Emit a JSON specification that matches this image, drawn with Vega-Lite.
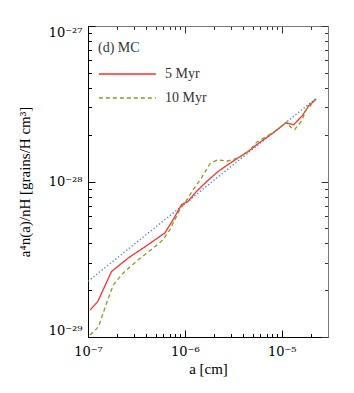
{
  "$schema": "https://vega.github.io/schema/vega-lite/v6.json",
  "width": 240,
  "height": 311,
  "autosize": "none",
  "padding": {"left": 88, "top": 26, "right": 26, "bottom": 56},
  "background": "white",
  "config": {"font": "Liberation Serif", "view": {"stroke": null}},
  "data": {"values": [
    {"s": "MRN", "a": 1.0e-7, "v": 2.28e-29},
    {"s": "MRN", "a": 2.25e-5, "v": 3.42e-28},
    {"s": "5 Myr", "a": 1.05e-7, "v": 1.49e-29},
    {"s": "5 Myr", "a": 1.26e-7, "v": 1.69e-29},
    {"s": "5 Myr", "a": 1.75e-7, "v": 2.64e-29},
    {"s": "5 Myr", "a": 2.6e-7, "v": 3.22e-29},
    {"s": "5 Myr", "a": 4.19e-7, "v": 3.93e-29},
    {"s": "5 Myr", "a": 6.22e-7, "v": 4.67e-29},
    {"s": "5 Myr", "a": 7.57e-7, "v": 5.69e-29},
    {"s": "5 Myr", "a": 9.25e-7, "v": 7.11e-29},
    {"s": "5 Myr", "a": 1.08e-6, "v": 7.46e-29},
    {"s": "5 Myr", "a": 1.32e-6, "v": 8.65e-29},
    {"s": "5 Myr", "a": 1.68e-6, "v": 1.0e-28},
    {"s": "5 Myr", "a": 2.2e-6, "v": 1.16e-28},
    {"s": "5 Myr", "a": 2.71e-6, "v": 1.27e-28},
    {"s": "5 Myr", "a": 3.44e-6, "v": 1.4e-28},
    {"s": "5 Myr", "a": 4.54e-6, "v": 1.57e-28},
    {"s": "5 Myr", "a": 5.97e-6, "v": 1.79e-28},
    {"s": "5 Myr", "a": 8.2e-6, "v": 2.06e-28},
    {"s": "5 Myr", "a": 1.1e-5, "v": 2.38e-28},
    {"s": "5 Myr", "a": 1.33e-5, "v": 2.32e-28},
    {"s": "5 Myr", "a": 1.63e-5, "v": 2.65e-28},
    {"s": "5 Myr", "a": 1.9e-5, "v": 3.08e-28},
    {"s": "5 Myr", "a": 2.27e-5, "v": 3.38e-28},
    {"s": "10 Myr", "a": 1.05e-7, "v": 1.03e-29},
    {"s": "10 Myr", "a": 1.28e-7, "v": 1.16e-29},
    {"s": "10 Myr", "a": 1.56e-7, "v": 1.66e-29},
    {"s": "10 Myr", "a": 1.82e-7, "v": 2.16e-29},
    {"s": "10 Myr", "a": 2.31e-7, "v": 2.58e-29},
    {"s": "10 Myr", "a": 3.3e-7, "v": 3.14e-29},
    {"s": "10 Myr", "a": 4.71e-7, "v": 3.73e-29},
    {"s": "10 Myr", "a": 5.97e-7, "v": 4.23e-29},
    {"s": "10 Myr", "a": 7.0e-7, "v": 4.9e-29},
    {"s": "10 Myr", "a": 8.87e-7, "v": 6.59e-29},
    {"s": "10 Myr", "a": 1.0e-6, "v": 7.29e-29},
    {"s": "10 Myr", "a": 1.22e-6, "v": 8.87e-29},
    {"s": "10 Myr", "a": 1.49e-6, "v": 1.06e-28},
    {"s": "10 Myr", "a": 1.83e-6, "v": 1.31e-28},
    {"s": "10 Myr", "a": 2.19e-6, "v": 1.38e-28},
    {"s": "10 Myr", "a": 2.71e-6, "v": 1.35e-28},
    {"s": "10 Myr", "a": 3.58e-6, "v": 1.42e-28},
    {"s": "10 Myr", "a": 4.54e-6, "v": 1.56e-28},
    {"s": "10 Myr", "a": 5.52e-6, "v": 1.79e-28},
    {"s": "10 Myr", "a": 8.2e-6, "v": 2.07e-28},
    {"s": "10 Myr", "a": 1.13e-5, "v": 2.42e-28},
    {"s": "10 Myr", "a": 1.24e-5, "v": 2.23e-28},
    {"s": "10 Myr", "a": 1.36e-5, "v": 2.16e-28},
    {"s": "10 Myr", "a": 1.6e-5, "v": 2.45e-28},
    {"s": "10 Myr", "a": 1.8e-5, "v": 2.92e-28},
    {"s": "10 Myr", "a": 1.96e-5, "v": 3.05e-28},
    {"s": "10 Myr", "a": 2.2e-5, "v": 3.38e-28}
  ]},
  "layer": [
    {
      "transform": [{"filter": "datum.s == 'MRN'"}],
      "mark": {"type": "line", "color": "#3d7fd6", "strokeWidth": 1.3, "strokeDash": [1.3, 2.2], "clip": true},
      "encoding": {
        "x": {"field": "a", "type": "quantitative",
          "scale": {"type": "log", "domain": [1e-7, 3e-5], "nice": false},
          "axis": {"orient": "top", "title": null, "labels": false, "grid": false,
            "values": [1e-7,2e-7,3e-7,4e-7,5e-7,6e-7,7e-7,8e-7,9e-7,1e-6,2e-6,3e-6,4e-6,5e-6,6e-6,7e-6,8e-6,9e-6,1e-5,2e-5],
            "tickSize": {"condition": {"test": "abs(log(datum.value)/LN10 - round(log(datum.value)/LN10)) < 0.01", "value": -7}, "value": -3.5},
            "domainColor": "#777777", "tickColor": "#333333"}},
        "y": {"field": "v", "type": "quantitative",
          "scale": {"type": "log", "domain": [1e-29, 1e-27], "nice": false},
          "axis": {"orient": "right", "title": null, "labels": false, "grid": false,
            "values": [1e-29,2e-29,3e-29,4e-29,5e-29,6e-29,7e-29,8e-29,9e-29,1e-28,2e-28,3e-28,4e-28,5e-28,6e-28,7e-28,8e-28,9e-28,1e-27],
            "tickSize": {"condition": {"test": "abs(log(datum.value)/LN10 - round(log(datum.value)/LN10)) < 0.01", "value": -7}, "value": -3.5},
            "domainColor": "#777777", "tickColor": "#333333"}}
      }
    },
    {
      "transform": [{"filter": "datum.s != 'MRN'"}],
      "mark": {"type": "line", "strokeWidth": 1.3, "clip": true},
      "encoding": {
        "x": {"field": "a", "type": "quantitative",
          "scale": {"type": "log", "domain": [1e-7, 3e-5], "nice": false},
          "axis": {"orient": "bottom", "title": "a [cm]", "grid": false,
            "values": [1e-7,2e-7,3e-7,4e-7,5e-7,6e-7,7e-7,8e-7,9e-7,1e-6,2e-6,3e-6,4e-6,5e-6,6e-6,7e-6,8e-6,9e-6,1e-5,2e-5],
            "tickSize": {"condition": {"test": "abs(log(datum.value)/LN10 - round(log(datum.value)/LN10)) < 0.01", "value": -7}, "value": -3.5},
            "labelExpr": "abs(log(datum.value)/LN10 - round(log(datum.value)/LN10)) < 0.01 ? (round(log(datum.value)/LN10) == -7 ? '10⁻⁷' : round(log(datum.value)/LN10) == -6 ? '10⁻⁶' : '10⁻⁵') : ''",
            "labelOverlap": false, "labelFlush": false, "labelBound": false,
            "labelFont": "DejaVu Serif", "labelFontSize": 13, "labelColor": "black", "labelPadding": 15,
            "titleFontSize": 15, "titleFontWeight": "normal", "titleColor": "black", "titlePadding": 0,
            "domainColor": "black", "tickColor": "black"}},
        "y": {"field": "v", "type": "quantitative",
          "scale": {"type": "log", "domain": [1e-29, 1e-27], "nice": false},
          "axis": {"orient": "left", "title": "a⁴n(a)/nH [grains/H cm³]", "grid": false,
            "values": [1e-29,2e-29,3e-29,4e-29,5e-29,6e-29,7e-29,8e-29,9e-29,1e-28,2e-28,3e-28,4e-28,5e-28,6e-28,7e-28,8e-28,9e-28,1e-27],
            "tickSize": {"condition": {"test": "abs(log(datum.value)/LN10 - round(log(datum.value)/LN10)) < 0.01", "value": -7}, "value": -3.5},
            "labelExpr": "abs(log(datum.value)/LN10 - round(log(datum.value)/LN10)) < 0.01 ? (round(log(datum.value)/LN10) == -29 ? '10⁻²⁹' : round(log(datum.value)/LN10) == -28 ? '10⁻²⁸' : '10⁻²⁷') : ''",
            "labelOverlap": false, "labelFlush": true, "labelBound": false,
            "labelFont": "DejaVu Serif", "labelFontSize": 13, "labelColor": "black", "labelPadding": 13,
            "titleFontSize": 15, "titleFontWeight": "normal", "titleColor": "black", "titlePadding": 16,
            "domainColor": "black", "tickColor": "black"}},
        "color": {"field": "s", "type": "nominal",
          "scale": {"domain": ["5 Myr", "10 Myr"], "range": ["#ff2d2d", "#8c9a22"]},
          "legend": {"orient": "none", "legendX": 10, "legendY": 15, "title": "(d) MC",
            "titleFontSize": 14, "titleFontWeight": "normal", "titleColor": "#333333", "titlePadding": 11,
            "labelFontSize": 14, "labelColor": "#333333", "labelOffset": 51,
            "symbolType": "M-1,0H7", "symbolSize": 203, "symbolStrokeWidth": 1.3, "rowPadding": 9}},
        "strokeDash": {"field": "s", "type": "nominal",
          "scale": {"domain": ["5 Myr", "10 Myr"], "range": [[1, 0], [4, 3]]},
          "legend": {"orient": "none", "legendX": 10, "legendY": 15, "title": "(d) MC",
            "titleFontSize": 14, "titleFontWeight": "normal", "titleColor": "#333333", "titlePadding": 11,
            "labelFontSize": 14, "labelColor": "#333333", "labelOffset": 51,
            "symbolType": "M-1,0H7", "symbolSize": 203, "symbolStrokeWidth": 1.3, "rowPadding": 9}}
      }
    }
  ],
  "resolve": {"axis": {"x": "independent", "y": "independent"}}
}
